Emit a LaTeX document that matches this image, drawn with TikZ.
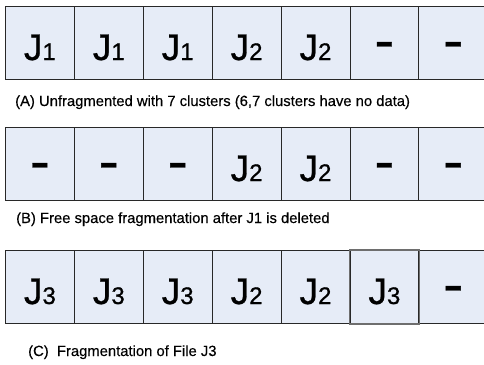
\documentclass[tikz,border=0pt]{standalone}
\usepackage{fontspec}
\setmainfont{Liberation Sans}
\newfontfamily\jfont[FakeBold=0.8]{Liberation Sans}
\newfontfamily\capfont[FakeBold=0.3]{Liberation Sans}
\definecolor{cellfill}{RGB}{230,236,247}
\definecolor{cellline}{RGB}{40,40,40}
\definecolor{hiline}{RGB}{110,110,110}
\newcommand\Jsub[1]{J{\fontsize{24}{24}\selectfont #1}}
\newcommand\Dash{\raisebox{6.4pt}{\scalebox{1.45}[0.9]{\fontsize{40}{40}\selectfont\bfseries -}}}
\begin{document}
\begin{tikzpicture}[x=1pt,y=-1pt,
  cell/.style={draw=cellline, line width=0.9pt, fill=cellfill,
    minimum width=68.9pt, minimum height=73pt, inner sep=0pt, anchor=north west},
  lab/.style={anchor=base, inner sep=0pt, font=\jfont\fontsize{37}{37}\selectfont},
  captxt/.style={anchor=base west, inner sep=0pt, font=\capfont\fontsize{14.8}{14.8}\selectfont}]
\useasboundingbox (0,0) rectangle (484,364);
\clip (0,0) rectangle (484,364);
% row A
\foreach \t [count=\i] in {\Jsub1,\Jsub1,\Jsub1,\Jsub2,\Jsub2,\Dash,\Dash}{
  \node[cell] (a\i) at ({5+(\i-1)*68.9},6) {};
  \node[lab] (la\i) at ([yshift=-54pt]a\i.north) {\t};
}
\node[captxt] (capA) at (15,106) {(A) Unfragmented with 7 clusters (6,7 clusters have no data)};
% row B
\foreach \t [count=\i] in {\Dash,\Dash,\Dash,\Jsub2,\Jsub2,\Dash,\Dash}{
  \node[cell] (b\i) at ({5+(\i-1)*68.9},127) {};
  \node[lab] (lb\i) at ([yshift=-54pt]b\i.north) {\t};
}
\node[captxt] (capB) at (16,223) {(B) Free space fragmentation after J1 is deleted};
% row C
\foreach \t [count=\i] in {\Jsub3,\Jsub3,\Jsub3,\Jsub2,\Jsub2,\Jsub3,\Dash}{
  \node[cell] (c\i) at ({5+(\i-1)*68.9},250) {};
}
\draw[hiline, line width=1.6pt] (c6.north west) rectangle (c6.south east);
\foreach \t [count=\i] in {\Jsub3,\Jsub3,\Jsub3,\Jsub2,\Jsub2,\Jsub3,\Dash}{
  \node[lab] (lc\i) at ([yshift=-54pt]c\i.north) {\t};
}
\node[captxt] (capC) at (28,356) {(C)\ \ Fragmentation of File J3};
\end{tikzpicture}
\end{document}
